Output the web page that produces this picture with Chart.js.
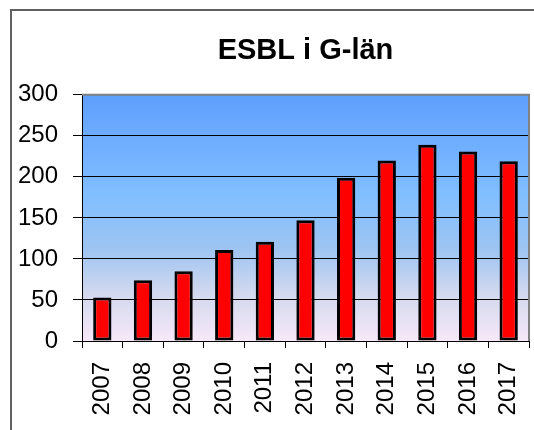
<!DOCTYPE html>
<html>
<head>
<meta charset="utf-8">
<script src="https://cdn.jsdelivr.net/npm/chart.js@4/dist/chart.umd.min.js"></script>
<style>
html,body{margin:0;padding:0;background:#fff;}
#wrap{width:534px;height:430px;position:relative;}
</style>
</head>
<body>
<div id="wrap"><canvas id="c" width="534" height="430"></canvas></div>
<script>
const titleText = 'ESBL i G-län';
const categories = ['2007','2008','2009','2010','2011','2012','2013','2014','2015','2016','2017'];
const esblCounts = [53, 74, 85, 111, 121, 147, 199, 220, 239, 231, 219];
const yTicks = [0, 50, 100, 150, 200, 250, 300];

const FONT = "'Liberation Sans', Arial, sans-serif";
const TITLE_FONT = "'Liberation Sans', Arial, sans-serif";

const framePlugin = {
  id: 'frame',
  beforeDraw(chart) {
    const {ctx, chartArea: a} = chart;
    ctx.save();
    ctx.fillStyle = '#fff';
    ctx.fillRect(0, 0, chart.width, chart.height);
    const g = ctx.createLinearGradient(0, a.top, 0, a.bottom);
    g.addColorStop(0, '#5f9ffd');
    g.addColorStop(0.4, '#80beff');
    g.addColorStop(0.62, '#9cc4f2');
    g.addColorStop(0.8, '#d0d8ee');
    g.addColorStop(1, '#f7e8f8');
    ctx.fillStyle = g;
    ctx.fillRect(a.left, a.top, a.right - a.left, a.bottom - a.top);
    ctx.strokeStyle = '#606060';
    ctx.lineWidth = 2;
    ctx.beginPath();
    ctx.moveTo(11, chart.height + 4);
    ctx.lineTo(11, 10);
    ctx.lineTo(chart.width + 4, 10);
    ctx.stroke();
    ctx.restore();
  },
  afterDraw(chart) {
    const {ctx, chartArea: a} = chart;
    ctx.save();
    ctx.strokeStyle = '#808080';
    ctx.lineWidth = 2;
    ctx.beginPath();
    ctx.moveTo(a.left, a.top);
    ctx.lineTo(a.right, a.top);
    ctx.lineTo(a.right, a.bottom);
    ctx.stroke();
    ctx.restore();
  }
};

new Chart(document.getElementById('c'), {
  type: 'bar',
  data: {
    labels: categories,
    datasets: [{
      data: esblCounts,
      backgroundColor: '#ff0000',
      borderColor: '#000000',
      borderWidth: 3,
      borderSkipped: false,
      categoryPercentage: 1,
      barPercentage: 0.45
    }]
  },
  options: {
    responsive: false,
    animation: false,
    layout: { padding: { left: 0, right: 5, top: 0, bottom: 0 } },
    plugins: {
      legend: { display: false },
      tooltip: { enabled: false },
      title: {
        display: true,
        text: titleText,
        fullSize: false,
        color: '#000',
        font: { family: TITLE_FONT, size: 29, weight: 'bold' },
        padding: { top: 34, bottom: 26 }
      }
    },
    scales: {
      x: {
        grid: { display: true, drawOnChartArea: false, color: '#000', tickLength: 7, offset: true },
        border: { display: true, color: '#000', width: 1 },
        ticks: {
          color: '#000',
          font: { family: FONT, size: 24 },
          minRotation: 90,
          maxRotation: 90,
          padding: 14,
          autoSkip: false
        },
        afterFit(scale) { scale.height = 89; scale.paddingLeft = 0; scale.paddingRight = 0; }
      },
      y: {
        min: 0,
        max: 300,
        afterBuildTicks(scale) { scale.ticks = yTicks.map(v => ({ value: v })); },
        grid: { color: '#000', lineWidth: 1, tickLength: 9 },
        border: { display: true, color: '#000', width: 1 },
        ticks: {
          color: '#000',
          font: { family: FONT, size: 24 },
          padding: 15
        },
        afterFit(scale) { scale.width = 82; }
      }
    }
  },
  plugins: [framePlugin]
});
</script>
</body>
</html>
